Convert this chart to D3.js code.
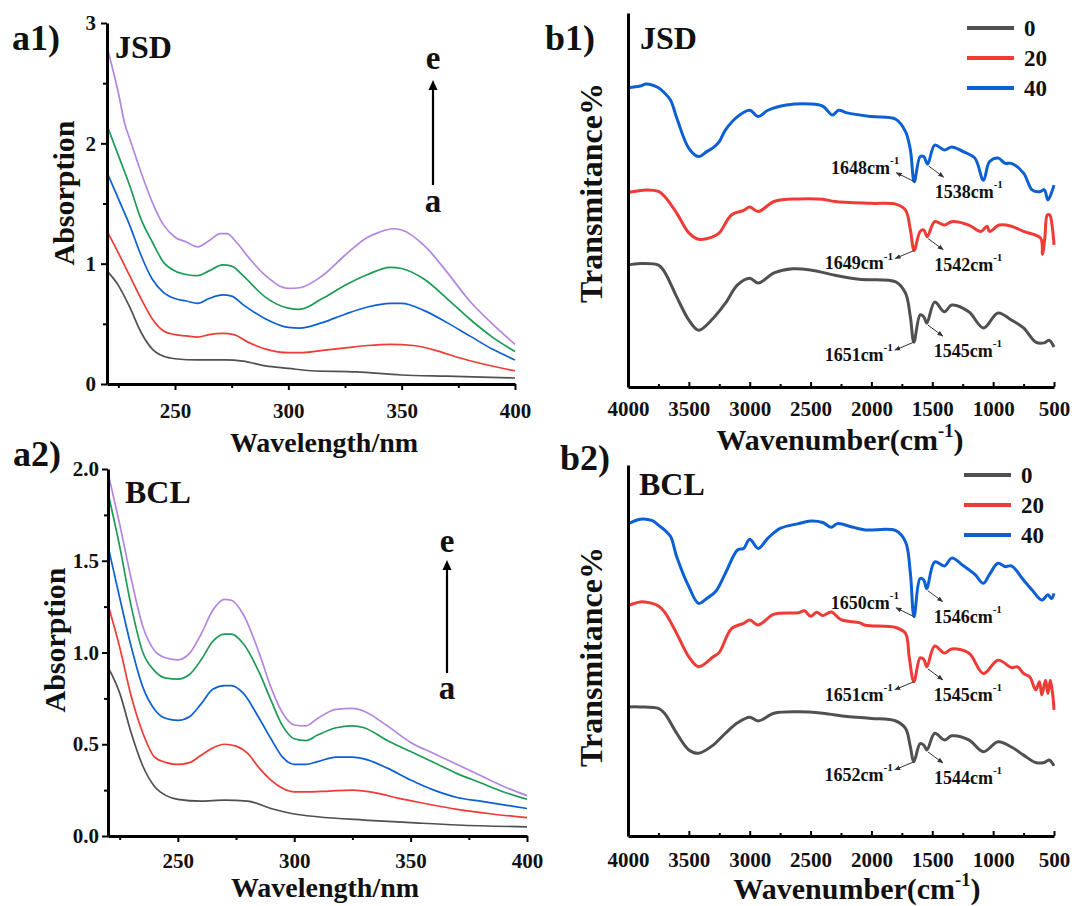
<!DOCTYPE html>
<html>
<head>
<meta charset="utf-8">
<style>
  body { margin: 0; background: #fff; }
</style>
</head>
<body>
<svg id="fig" width="1072" height="906" font-family="Liberation Serif" font-weight="bold"></svg>

<script src="https://d3js.org/d3.v7.min.js"></script>
<script>
  // ---- UV-vis, JSD (a1): [wavelength nm, absorbance], curves a..e
  const jsdUvA = [[220,0.94],[225,0.82],[230,0.64],[235,0.43],[240,0.29],[245,0.23],[250,0.21],[260,0.20],[272,0.20],[280,0.19],[290,0.15],[300,0.13],[310,0.11],[330,0.10],[350,0.075],[370,0.065],[400,0.05]];
  const jsdUvB = [[220,1.27],[225,1.09],[230,0.90],[235,0.71],[240,0.54],[245,0.44],[250,0.41],[255,0.40],[260,0.39],[265,0.41],[271,0.42],[276,0.41],[282,0.35],[290,0.29],[300,0.26],[305,0.26],[315,0.28],[325,0.30],[335,0.32],[345,0.33],[355,0.32],[365,0.28],[375,0.22],[385,0.17],[400,0.11]];
  const jsdUvC = [[220,1.76],[225,1.54],[230,1.32],[235,1.07],[240,0.87],[245,0.76],[250,0.71],[255,0.69],[260,0.67],[265,0.71],[271,0.74],[275,0.73],[280,0.66],[290,0.54],[300,0.47],[305,0.465],[315,0.51],[325,0.58],[335,0.64],[345,0.67],[350,0.67],[360,0.61],[370,0.51],[380,0.40],[390,0.29],[400,0.20]];
  const jsdUvD = [[220,2.15],[225,1.90],[230,1.65],[235,1.37],[240,1.18],[245,1.01],[250,0.94],[255,0.91],[260,0.90],[265,0.94],[271,0.99],[275,0.98],[280,0.90],[290,0.72],[300,0.63],[305,0.62],[315,0.71],[325,0.82],[335,0.91],[345,0.97],[350,0.96],[360,0.87],[370,0.71],[380,0.54],[390,0.39],[400,0.27]];
  const jsdUvE = [[220,2.80],[225,2.42],[228,2.15],[230,2.04],[235,1.76],[240,1.51],[245,1.32],[250,1.22],[255,1.18],[260,1.14],[265,1.19],[270,1.25],[273,1.25],[277,1.18],[283,1.04],[290,0.90],[300,0.795],[305,0.80],[315,0.90],[325,1.07],[335,1.22],[340,1.26],[346,1.29],[350,1.28],[360,1.15],[370,0.93],[380,0.69],[390,0.50],[400,0.33]];

  // ---- UV-vis, BCL (a2)
  const bclUvA = [[220,0.92],[225,0.78],[230,0.56],[235,0.38],[240,0.27],[245,0.22],[250,0.20],[260,0.19],[270,0.195],[280,0.19],[290,0.15],[300,0.12],[310,0.105],[330,0.087],[350,0.073],[370,0.06],[400,0.05]];
  const bclUvB = [[220,1.26],[225,1.03],[230,0.76],[235,0.56],[240,0.43],[245,0.40],[250,0.39],[255,0.40],[260,0.44],[265,0.48],[270,0.50],[275,0.49],[280,0.45],[285,0.37],[290,0.305],[295,0.26],[300,0.24],[305,0.24],[315,0.245],[325,0.25],[335,0.235],[345,0.205],[355,0.18],[370,0.145],[385,0.12],[400,0.10]];
  const bclUvC = [[220,1.58],[225,1.30],[230,1.03],[235,0.81],[240,0.69],[245,0.64],[250,0.63],[255,0.65],[260,0.72],[265,0.80],[270,0.82],[273,0.82],[278,0.78],[285,0.64],[290,0.53],[295,0.43],[300,0.39],[305,0.39],[310,0.405],[318,0.43],[325,0.43],[330,0.42],[340,0.37],[350,0.305],[360,0.25],[370,0.21],[380,0.19],[390,0.17],[400,0.15]];
  const bclUvD = [[220,1.87],[225,1.58],[230,1.25],[235,1.00],[240,0.90],[245,0.86],[250,0.855],[255,0.88],[260,0.96],[265,1.06],[270,1.10],[273,1.10],[278,1.05],[285,0.89],[290,0.74],[295,0.60],[300,0.53],[305,0.52],[310,0.55],[318,0.59],[325,0.60],[330,0.59],[340,0.52],[350,0.46],[360,0.40],[370,0.34],[380,0.29],[390,0.24],[400,0.20]];
  const bclUvE = [[220,1.98],[225,1.70],[230,1.40],[235,1.14],[240,1.01],[245,0.97],[250,0.96],[255,0.995],[260,1.10],[265,1.23],[270,1.29],[273,1.285],[278,1.21],[285,0.995],[290,0.81],[295,0.67],[300,0.605],[305,0.60],[310,0.64],[318,0.69],[325,0.695],[330,0.68],[340,0.60],[350,0.51],[360,0.45],[370,0.39],[380,0.33],[390,0.27],[400,0.22]];

  // ---- FTIR, JSD (b1): [wavenumber cm-1, transmittance (arb.)], series 0 / 20 / 40
  const jsdIr0 = [[4000,32.6],[3900,33],[3750,32.6],[3700,30.8],[3600,24.1],[3500,17.9],[3420,15.2],[3300,18.4],[3200,22.4],[3100,27.3],[3000,29.1],[2930,27.8],[2800,30.5],[2650,31.6],[2500,31.3],[2300,29.9],[2100,28.8],[1800,28.1],[1720,25.1],[1680,18.7],[1651,12],[1600,19.3],[1570,18.8],[1545,17.1],[1480,22.7],[1400,20.1],[1340,21.9],[1200,20.1],[1080,15.8],[960,19.8],[850,17.9],[750,15.8],[650,12],[580,11.8],[540,12.5],[500,10.7]];
  const jsdIr20 = [[4000,52],[3850,52.7],[3750,52.3],[3700,51],[3600,46.5],[3500,41.2],[3420,39.5],[3300,40.2],[3250,41.2],[3150,46],[3050,47.2],[3000,48.1],[2930,46.9],[2800,49.6],[2600,50.3],[2400,50.2],[2300,49.6],[2000,49.1],[1800,48.9],[1720,47.3],[1680,42],[1649,36.5],[1600,41.6],[1570,42],[1542,40.2],[1480,44.2],[1400,43.3],[1340,44.2],[1200,43.3],[1100,41.6],[1050,43],[1030,41.6],[950,43.3],[850,43],[750,41.6],[610,39.8],[595,35.5],[575,40],[555,46],[535,46],[515,43],[500,38]];
  const jsdIr40 = [[4000,80],[3900,80.5],[3850,81],[3750,80],[3700,78.6],[3650,76.7],[3600,72],[3500,63.8],[3420,61.6],[3350,63],[3300,64],[3250,65.6],[3200,68.7],[3100,72.3],[3000,74],[2930,72.3],[2850,74],[2700,75.4],[2500,75.7],[2400,75.1],[2320,72.7],[2270,74],[2200,73.3],[2000,72.3],[1800,71.6],[1720,68.3],[1680,63.4],[1648,54.9],[1600,61.6],[1570,61.6],[1538,59.6],[1480,64.7],[1400,63.4],[1340,64.2],[1250,63],[1150,61.2],[1080,55.3],[1030,60.2],[960,61.2],[900,59.8],[850,59.8],[750,57.2],[680,52.7],[620,52.2],[580,52.7],[550,50],[520,52],[500,54]];

  // ---- FTIR, BCL (b2)
  const bclIr0 = [[4000,34.8],[3900,34.8],[3750,34.4],[3700,33.1],[3600,27.7],[3500,23.2],[3420,22.3],[3300,24.5],[3200,27.7],[3100,30.5],[3000,32],[2930,31],[2800,33.1],[2600,33.5],[2400,33.1],[2200,32.2],[2000,31.7],[1800,31],[1720,29],[1680,24],[1652,20],[1600,24.9],[1570,24.5],[1544,23.2],[1480,27.7],[1400,25.9],[1340,27],[1200,25.9],[1080,22.7],[960,25.4],[850,24],[750,21.8],[650,19.8],[580,19.8],[540,20.5],[500,18.9]];
  const bclIr20 = [[4000,62.1],[3900,63.1],[3800,62.7],[3750,62],[3700,60.4],[3600,54.6],[3500,48.3],[3420,45.6],[3300,48.3],[3250,49.5],[3150,55.9],[3050,57.3],[3000,58.2],[2930,56.9],[2800,59.8],[2600,60.2],[2550,60.7],[2500,59.2],[2450,60.3],[2400,59.4],[2330,60.4],[2250,58.3],[2100,57.5],[2050,56.8],[1800,56.2],[1720,54.6],[1690,48.3],[1651,41.6],[1600,48],[1570,47.6],[1545,45.6],[1480,51.2],[1400,49.3],[1340,50.4],[1200,49.3],[1080,43.8],[960,47.4],[850,45.4],[800,45.6],[750,43.8],[700,42.9],[650,39.4],[620,41.6],[600,38],[570,42],[550,38.4],[530,42],[510,38],[500,34]];
  const bclIr40 = [[4000,84.1],[3900,85.4],[3800,85],[3750,83.8],[3700,82.5],[3650,80.7],[3600,75.3],[3500,67.2],[3420,62.7],[3350,64.1],[3280,65.9],[3200,70.8],[3100,77.1],[3050,77.5],[3000,80],[2930,77.5],[2850,80.3],[2750,82.9],[2600,84.2],[2500,84.9],[2400,84.5],[2330,83.2],[2280,84.2],[2150,83.2],[2050,82.5],[1800,82.3],[1720,79.3],[1680,70.8],[1650,59.1],[1600,69.4],[1570,69],[1546,66.7],[1480,73.9],[1400,72.8],[1340,74.9],[1250,73],[1150,70.5],[1080,68.1],[1030,70.5],[960,73.5],[900,72.6],[850,72.8],[750,69],[680,66.3],[600,63.6],[550,65],[520,64],[500,65.4]];

  // peak labels: [wavenumber, series index, side]
  const jsdPeaks = [[1648,2,"L"],[1538,2,"R"],[1649,1,"L"],[1542,1,"R"],[1651,0,"L"],[1545,0,"R"]];
  const bclPeaks = [[1650,2,"L"],[1546,2,"R"],[1651,1,"L"],[1545,1,"R"],[1652,0,"L"],[1544,0,"R"]];

  const uvTicks = [250, 300, 350, 400];
  const uvMinor = [225, 275, 325, 375];
  const irTicks = [4000, 3500, 3000, 2500, 2000, 1500, 1000, 500];
  const irMinor = [3750, 3250, 2750, 2250, 1750, 1250, 750];
  const irLegend = ["0", "20", "40"];

  const uvColors = ["#505050", "#ef3b36", "#0d5fd4", "#1d9a55", "#b386e0"];
  const irColors = ["#505050", "#ef3b36", "#0d5fd4"];

  const svg = d3.select("#fig");
  const FONT = "Liberation Serif";

  svg.append("defs").append("marker")
    .attr("id", "head")
    .attr("viewBox", "0 -5 10 10")
    .attr("refX", 9).attr("refY", 0)
    .attr("markerWidth", 6).attr("markerHeight", 6)
    .attr("orient", "auto")
    .append("path").attr("d", "M0,-4L10,0L0,4Z").attr("fill", "#333");

  svg.select("defs").append("marker")
    .attr("id", "bigHead")
    .attr("viewBox", "0 -5 10 10")
    .attr("refX", 2).attr("refY", 0)
    .attr("markerWidth", 4.5).attr("markerHeight", 4.5)
    .attr("orient", "auto")
    .append("path").attr("d", "M0,-4.5L10,0L0,4.5Z").attr("fill", "#000");

  function styleAxis(g, width) {
    g.attr("font-family", FONT);
    g.select(".domain").attr("stroke", "#000").attr("stroke-width", width);
    g.selectAll(".tick line").attr("stroke", "#000").attr("stroke-width", 2);
    g.selectAll("text").attr("font-family", FONT).attr("font-weight", "bold")
      .attr("font-size", 21).attr("fill", "#111");
  }

  function addText(x, y, str, size, anchor) {
    return svg.append("text").attr("x", x).attr("y", y)
      .attr("font-family", FONT).attr("font-weight", "bold").attr("fill", "#111")
      .attr("font-size", size).attr("text-anchor", anchor || "start").text(str);
  }

  // base text followed by a raised superscript, optional trailing text
  function addSup(t, base, sup, size, after, rise) {
    const r = (rise || 0.42) * size;
    t.append("tspan").text(base);
    t.append("tspan").attr("dy", -r).attr("font-size", size * 0.62).text(sup);
    if (after) t.append("tspan").attr("dy", r).text(after);
    return t;
  }

  function uvPanel(o) {
    const x = d3.scaleLinear().domain([220, 400]).range([o.left, o.right]);
    const y = d3.scaleLinear().domain([0, o.ymax]).range([o.bottom, o.top]);
    const line = d3.line().x(d => x(d[0])).y(d => y(d[1])).curve(d3.curveMonotoneX);

    svg.append("g").selectAll("path").data(o.series).join("path")
      .attr("d", line).attr("fill", "none")
      .attr("stroke", (d, i) => uvColors[i]).attr("stroke-width", 1.7);

    const xMinor = svg.append("g").attr("transform", `translate(0,${o.bottom})`)
      .call(d3.axisBottom(x).tickValues(uvMinor).tickSize(4).tickFormat(""));
    xMinor.select(".domain").remove();
    xMinor.selectAll(".tick line").attr("stroke", "#000").attr("stroke-width", 2);

    const xAx = svg.append("g").attr("transform", `translate(0,${o.bottom})`)
      .call(d3.axisBottom(x).tickValues(uvTicks).tickSize(6).tickSizeOuter(0)
        .tickPadding(o.xPad).tickFormat(d3.format("d")));
    styleAxis(xAx, 3);

    const yMinor = svg.append("g").attr("transform", `translate(${o.left},0)`)
      .call(d3.axisLeft(y).tickValues(o.yMinor).tickSize(4).tickFormat(""));
    yMinor.select(".domain").remove();
    yMinor.selectAll(".tick line").attr("stroke", "#000").attr("stroke-width", 2);

    const yAx = svg.append("g").attr("transform", `translate(${o.left},0)`)
      .call(d3.axisLeft(y).tickValues(o.yTicks).tickSize(6).tickSizeOuter(0)
        .tickPadding(o.yPad).tickFormat(o.yFmt));
    styleAxis(yAx, 3);

    addText(o.xTitle[0], o.xTitle[1], "Wavelength/nm", 28, "middle");
    addText(0, 0, "Absorption", 30, "middle").attr("dy", "0.35em")
      .attr("transform", `translate(${o.yTitle[0]},${o.yTitle[1]}) rotate(-90)`);

    // e <- a arrow
    svg.append("line").attr("x1", o.arrow[0]).attr("x2", o.arrow[0])
      .attr("y1", o.arrow[1]).attr("y2", o.arrow[2])
      .attr("stroke", "#000").attr("stroke-width", 2.2).attr("marker-end", "url(#bigHead)");
    addText(o.arrow[0], o.eY, "e", 33, "middle");
    addText(o.arrow[0], o.aY, "a", 33, "middle");
    addText(o.tag[0], o.tag[1], o.tag[2], 36);
    addText(o.name[0], o.name[1], o.name[2], 32);
  }

  function valueAt(series, wn) {
    for (let i = 0; i < series.length - 1; i++) {
      const [x0, y0] = series[i], [x1, y1] = series[i + 1];
      if (wn <= x0 && wn >= x1) return y0 + (y1 - y0) * (wn - x0) / (x1 - x0);
    }
    return series[series.length - 1][1];
  }

  function irPanel(o) {
    const x = d3.scaleLinear().domain([4000, 500]).range([o.left, o.right]);
    const y = d3.scaleLinear().domain([0, 100]).range([o.bottom, o.top]);
    const line = d3.line().x(d => x(d[0])).y(d => y(d[1])).curve(d3.curveCatmullRom.alpha(0.5));

    svg.append("g").selectAll("path").data(o.series).join("path")
      .attr("d", line).attr("fill", "none")
      .attr("stroke", (d, i) => irColors[i]).attr("stroke-width", 3)
      .attr("stroke-linejoin", "round");

    const xMinor = svg.append("g").attr("transform", `translate(0,${o.bottom})`)
      .call(d3.axisBottom(x).tickValues(irMinor).tickSize(-3).tickFormat(""));
    xMinor.select(".domain").remove();
    xMinor.selectAll(".tick line").attr("stroke", "#000").attr("stroke-width", 2);

    const xAx = svg.append("g").attr("transform", `translate(0,${o.bottom})`)
      .call(d3.axisBottom(x).tickValues(irTicks).tickSize(-5).tickSizeOuter(0)
        .tickPadding(o.xPad).tickFormat(d3.format("d")));
    styleAxis(xAx, 3);

    const yAx = svg.append("g").attr("transform", `translate(${o.left},0)`)
      .call(d3.axisLeft(y).tickValues([]).tickSizeOuter(0));
    styleAxis(yAx, 3);

    const title = addText(o.xTitle[0], o.xTitle[1], "", 30, "middle");
    addSup(title, "Wavenumber(cm", "-1", 30, ")");
    addText(0, 0, "Transmitance%", 32, "middle").attr("dy", "0.35em")
      .attr("transform", `translate(${o.yTitle[0]},${o.yTitle[1]}) rotate(-90)`);

    // legend
    irLegend.forEach((lab, i) => {
      const ly = o.legend[1] + i * 30;
      svg.append("line").attr("x1", o.legend[0]).attr("x2", o.legend[0] + 47)
        .attr("y1", ly).attr("y2", ly)
        .attr("stroke", irColors[i]).attr("stroke-width", 4);
      addText(o.legend[0] + 57, ly + 8, lab, 23);
    });

    // peak annotations
    o.peaks.forEach(([wn, si, side]) => {
      const px = x(wn), py = y(valueAt(o.series[si], wn));
      let tail, head, tx, ty, anchor;
      if (side === "L") {
        tail = [px, py];
        if (si === 2) {
          head = [px - 18, py - 9]; tx = head[0] + 3; ty = head[1] + 1;
        } else {
          head = [px - 19, py + 8]; tx = head[0] - 2; ty = head[1] + 11;
        }
        anchor = "end";
      } else {
        tail = [px + 1, py + 2];
        head = [px + 16, py + 13]; tx = head[0] - 9; ty = head[1] + 21;
        anchor = "start";
      }
      svg.append("line").attr("x1", tail[0]).attr("y1", tail[1])
        .attr("x2", head[0]).attr("y2", head[1])
        .attr("stroke", "#333").attr("stroke-width", 1)
        .attr("marker-end", "url(#head)");
      addSup(addText(tx, ty, "", 18, anchor), wn + "cm", "-1", 18, null, 0.55);
    });

    addText(o.tag[0], o.tag[1], o.tag[2], 36);
    addText(o.name[0], o.name[1], o.name[2], 32);
  }

  uvPanel({
    left: 107, right: 515, top: 23, bottom: 384, ymax: 3,
    series: [jsdUvA, jsdUvB, jsdUvC, jsdUvD, jsdUvE],
    yTicks: [0, 1, 2, 3], yMinor: [0.5, 1.5, 2.5], yFmt: d3.format("d"),
    xPad: 13, yPad: 5,
    xTitle: [324, 452], yTitle: [63, 193],
    arrow: [433, 185, 88], eY: 69, aY: 212,
    tag: [12, 50, "a1)"], name: [115, 58, "JSD"]
  });

  uvPanel({
    left: 108, right: 527, top: 469, bottom: 836, ymax: 2,
    series: [bclUvA, bclUvB, bclUvC, bclUvD, bclUvE],
    yTicks: [0, 0.5, 1, 1.5, 2], yMinor: [0.25, 0.75, 1.25, 1.75], yFmt: d3.format(".1f"),
    xPad: 11, yPad: 3,
    xTitle: [325, 897], yTitle: [54, 640],
    arrow: [447, 673, 568], eY: 552, aY: 699,
    tag: [13, 466, "a2)"], name: [125, 503, "BCL"]
  });

  irPanel({
    left: 628, right: 1054, top: 13, bottom: 387,
    series: [jsdIr0, jsdIr20, jsdIr40], peaks: jsdPeaks,
    xPad: 14, xTitle: [840, 450], yTitle: [591, 193],
    legend: [967, 28],
    tag: [545, 50, "b1)"], name: [640, 49, "JSD"]
  });

  irPanel({
    left: 628, right: 1054, top: 465, bottom: 836,
    series: [bclIr0, bclIr20, bclIr40], peaks: bclPeaks,
    xPad: 16, xTitle: [857, 899], yTitle: [591, 657],
    legend: [964, 475],
    tag: [560, 470, "b2)"], name: [639, 495, "BCL"]
  });
</script>
</body>
</html>
